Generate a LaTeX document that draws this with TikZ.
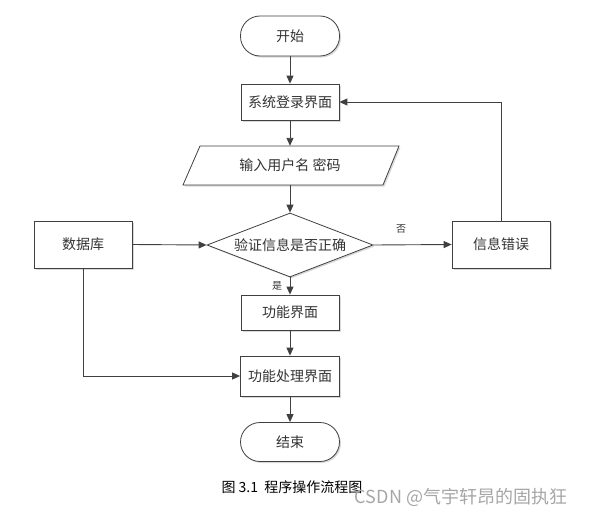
\documentclass[tikz,border=0pt]{standalone}
\usepackage{fontspec}
\setmainfont{Noto Sans CJK SC}
\usetikzlibrary{arrows.meta,shapes.geometric,shadows}
\definecolor{linec}{HTML}{404040}
\definecolor{textc}{HTML}{333333}
\tikzset{
  base/.style={draw=linec, line width=0.8pt, fill=white, text=textc, font=\fontsize{14}{16}\selectfont, inner sep=0pt,
    drop shadow={shadow xshift=1.5pt, shadow yshift=-1.5pt, fill=black!25, opacity=0.6}},
  procbox/.style={base, rectangle, minimum width=98pt},
  term/.style={base, rectangle, rounded corners=19.5pt, minimum width=99pt, minimum height=40pt},
  decide/.style={base, diamond, aspect=2.6, minimum width=166pt, minimum height=64pt},
  conn/.style={draw=linec, line width=0.9pt, -{Triangle[length=8pt,width=7pt]}},
  lbl/.style={text=textc, font=\fontsize{10}{11}\selectfont, inner sep=0pt}
}
\begin{document}
\begin{tikzpicture}[x=1pt,y=-1pt]
\useasboundingbox (0,0) rectangle (591,514);
\node[term] (start) at (290,36) {开始};
\node[procbox, minimum height=36pt] (login) at (290,102) {系统登录界面};
\fill[black!25, opacity=0.6] (201.5,147.5) -- (400.5,147.5) -- (384.5,186.5) -- (184.5,186.5) -- cycle;
\filldraw[draw=linec, line width=0.8pt, fill=white] (200,146) -- (399,146) -- (383,185) -- (183,185) -- cycle;
\node[text=textc, font=\fontsize{14}{16}\selectfont, minimum height=39pt, inner sep=0pt] (input) at (290,165.5) {输入用户名 密码};
\node[decide] (check) at (290,245) {验证信息是否正确};
\node[procbox, minimum height=47pt] (err) at (501,244.5) {信息错误};
\node[procbox, minimum height=47pt] (db) at (83,244.5) {数据库};
\node[procbox, minimum height=35pt] (func) at (290,312.5) {功能界面};
\node[procbox, minimum height=40pt, minimum width=99pt] (proc) at (290,376) {功能处理界面};
\node[term, minimum height=39pt] (end) at (290,442) {结束};

\draw[conn] (start) -- (login);
\draw[conn] (login) -- (input);
\draw[conn] (input) -- (check.north);
\draw[conn] (check.south) -- (func);
\draw[conn] (func) -- (proc);
\draw[conn] (proc) -- (end);
\draw[conn] (check.east) -- (err.west);
\draw[conn] (err.north) |- (login.east);
\draw[conn] (db.east) -- (check.west);
\draw[conn] (db.south) |- (proc.west);
\node[lbl] (yes) at (277,286) {是};
\node[lbl] (no) at (401,229) {否};

\node[text=black, font=\fontsize{14}{16}\selectfont, inner sep=0pt] (cap) at (292,487) {图 3.1\ \ 程序操作流程图};
\node[text=black!35, font=\fontsize{18}{20}\selectfont, inner sep=0pt] (wm) at (461,497) {CSDN @气宇轩昂的固执狂};
\end{tikzpicture}
\end{document}
